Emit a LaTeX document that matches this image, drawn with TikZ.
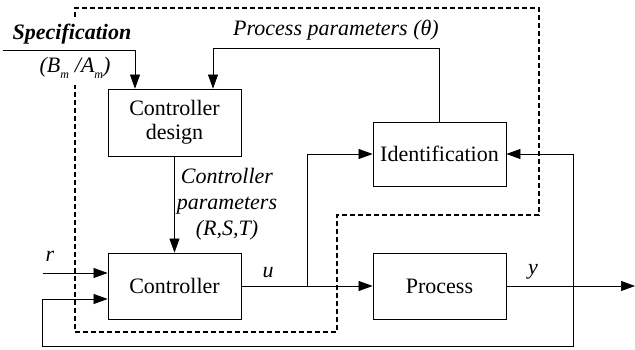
\documentclass[tikz,border=0pt]{standalone}
\usepackage{fontspec}
\setmainfont{Liberation Serif}
\usetikzlibrary{arrows.meta}
\newcommand{\lowsub}[1]{\raisebox{-6pt}{\fontsize{12}{12}\selectfont\itshape #1}}
\begin{document}
\begin{tikzpicture}[x=1pt,y=-1pt,
  box/.style={draw,line width=0.8pt,minimum width=133pt,align=center,font=\fontsize{22}{24}\selectfont,inner sep=0pt},
  arr/.style={line width=0.7pt,-{Triangle[length=14pt,width=10pt]}},
  lbl/.style={font=\fontsize{22}{26}\selectfont\itshape,inner sep=1pt,align=center},
  dashline/.style={line width=1.5pt,dash pattern=on 5pt off 3pt}]
\useasboundingbox (0,0) rectangle (635,350);
\draw[dashline] (75,17) -- (75,8) -- (539,8) -- (539,215) -- (337,215) -- (337,332) -- (75,332) -- (75,85);
\node[box,minimum height=67pt] (cd) at (174.5,122.5) {Controller\\design};
\node[box,minimum height=66pt] (ctrl) at (174.5,286) {Controller};
\node[box,minimum height=64pt] (ident) at (439.5,154) {Identification};
\node[box,minimum height=66pt] (proc) at (439.5,286) {Process};
\node[lbl,font=\fontsize{22}{26}\selectfont\bfseries\itshape] (spec) at (72,34) {Specification};
\node[lbl] (bm) at (75,68) {(\textit{B}\lowsub{m}\hspace{6pt}/\textit{A}\lowsub{m})};
\node[lbl] (ppl) at (336,30) {Process parameters (θ)};
\node[lbl] (cpl) at (227,204) {Controller\\parameters\\(\textit{R,S,T})};
\node[lbl] (rl) at (50,256) {r};
\node[lbl] (ul) at (268,273) {u};
\node[lbl] (yl) at (533,272) {y};
\coordinate (sp0) at (3,50);
\coordinate (pp) at (213,48);
\coordinate (br) at (307,286);
\coordinate (yb) at (573,286);
\coordinate (yend) at (635,286);
\coordinate (fb) at (42,346);
\coordinate (r0) at (43,273);
\draw[arr] (sp0) -| ([xshift=-39.5pt]cd.north);
\draw[arr] (ident.north) |- (pp) -- (pp |- cd.north);
\draw[arr] (cd.south) -- (ctrl.north);
\draw[arr] (ctrl.east) -- (proc.west);
\draw[arr] (br) |- (ident.west);
\draw[arr] (proc.east) -- (yend);
\draw[arr] (yb) |- (ident.east);
\draw[arr] (yb) |- (fb) |- ([yshift=-13pt]ctrl.west);
\draw[arr] (r0) -- ([yshift=13pt]ctrl.west);
\end{tikzpicture}
\end{document}
